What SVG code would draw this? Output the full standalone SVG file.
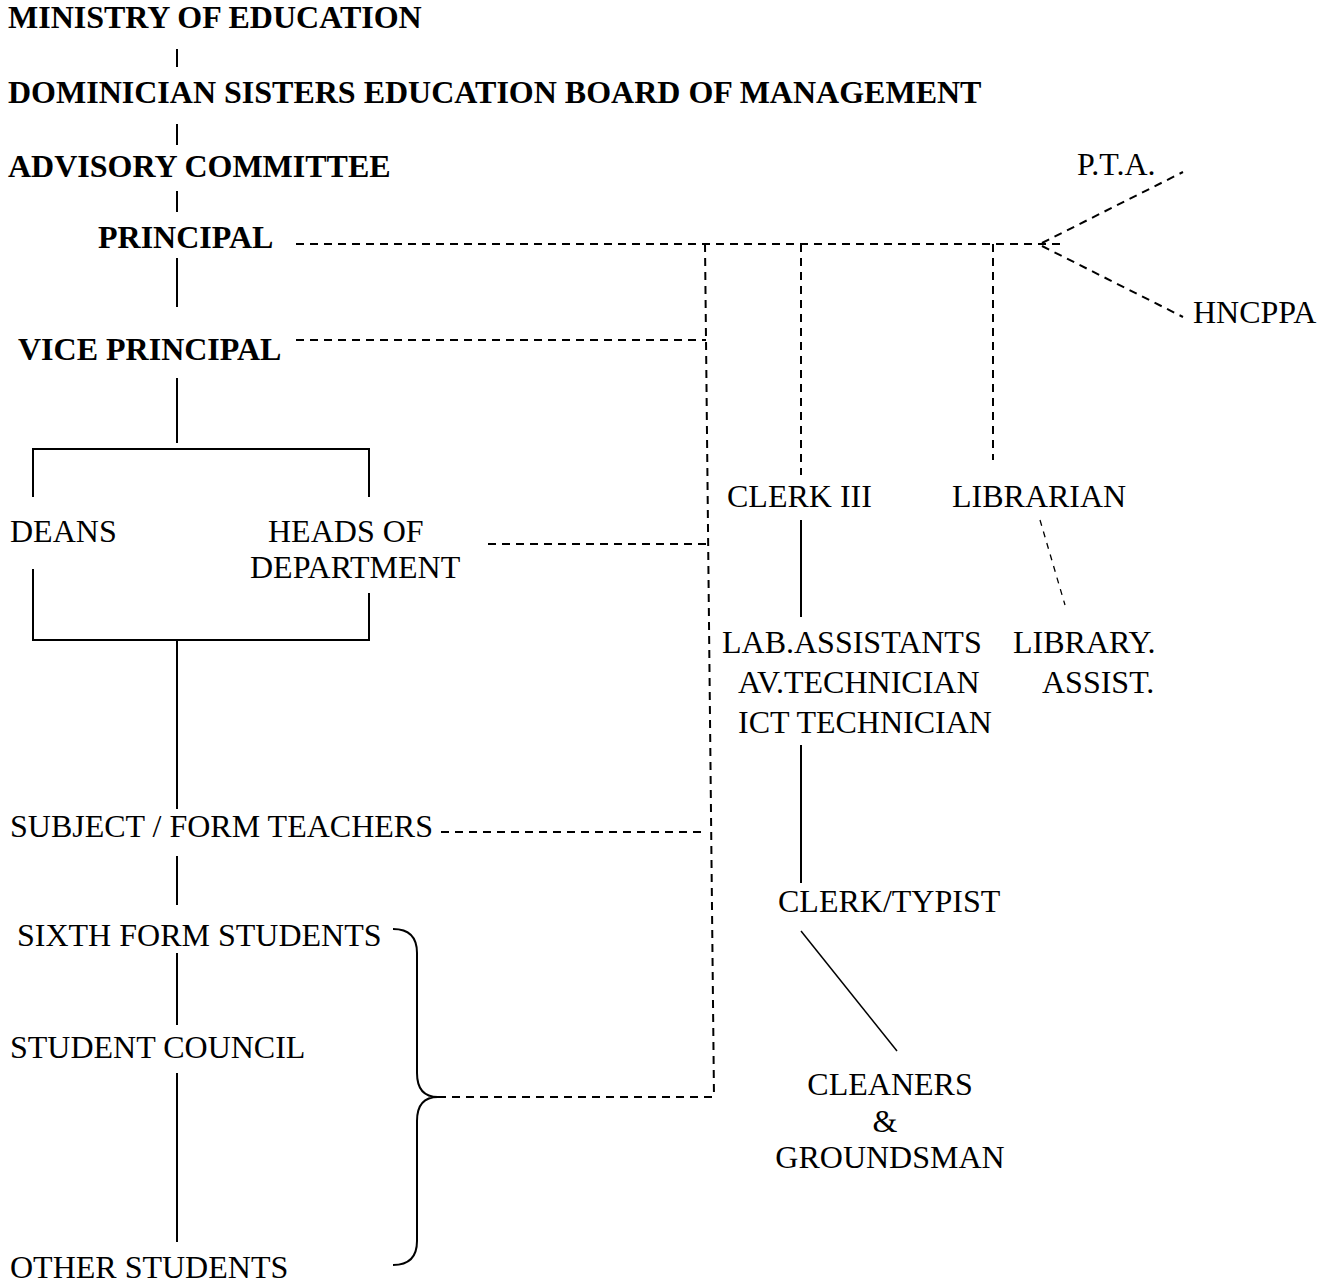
<svg xmlns="http://www.w3.org/2000/svg" width="1337" height="1283" viewBox="0 0 1337 1283">
<style>
text{font-family:"Liberation Serif","Times New Roman",serif;font-size:32px;fill:#000}
.b{font-weight:bold}
.s{stroke:#000;stroke-width:2;fill:none}
.t{stroke:#000;stroke-width:1.5;fill:none}
.d{stroke:#000;stroke-width:2;fill:none;stroke-dasharray:8 6}
.dt{stroke:#000;stroke-width:1.3;fill:none;stroke-dasharray:6 6}
</style>
<rect width="1337" height="1283" fill="#fff"/>
<g id="connectors">
<line class="s" x1="177" y1="49" x2="177" y2="67"/>
<line class="s" x1="177" y1="124" x2="177" y2="145"/>
<line class="s" x1="177" y1="191" x2="177" y2="212"/>
<line class="s" x1="177" y1="258" x2="177" y2="307"/>
<line class="s" x1="177" y1="378" x2="177" y2="443"/>
<polyline class="s" points="33,497 33,449 369,449 369,497"/>
<polyline class="s" points="33,569 33,640 369,640 369,593"/>
<line class="s" x1="177" y1="640" x2="177" y2="809"/>
<line class="s" x1="177" y1="856" x2="177" y2="905"/>
<line class="s" x1="177" y1="953" x2="177" y2="1025"/>
<line class="s" x1="177" y1="1073" x2="177" y2="1242"/>
<path class="s" d="M393,929 Q417,929 417,953 L417,1073 Q417,1097 438,1097 Q417,1097 417,1121 L417,1241 Q417,1265 393,1265"/>
<line class="d" x1="296" y1="244" x2="1063" y2="244"/>
<line class="d" x1="1042" y1="243" x2="1183" y2="172"/>
<line class="d" x1="1042" y1="246" x2="1183" y2="317"/>
<line class="d" x1="296" y1="340" x2="706" y2="340"/>
<line class="d" x1="705" y1="244" x2="714" y2="1097"/>
<line class="d" x1="488" y1="544" x2="707" y2="544"/>
<line class="d" x1="441" y1="832" x2="704" y2="832"/>
<line class="d" x1="438" y1="1097" x2="714" y2="1097"/>
<line class="d" x1="801" y1="244" x2="801" y2="475"/>
<line class="d" x1="993" y1="244" x2="993" y2="460"/>
<line class="s" x1="801" y1="520" x2="801" y2="617"/>
<line class="dt" x1="1040" y1="520" x2="1065" y2="605"/>
<line class="s" x1="801" y1="745" x2="801" y2="883"/>
<line class="t" x1="801" y1="931" x2="897" y2="1051"/>
</g>
<g id="ministry"><text class="b" x="8" y="28">MINISTRY OF EDUCATION</text></g>
<g id="board"><text class="b" x="8" y="103">DOMINICIAN SISTERS EDUCATION BOARD OF MANAGEMENT</text></g>
<g id="advisory"><text class="b" x="8" y="177">ADVISORY COMMITTEE</text></g>
<g id="principal"><text class="b" x="98" y="248">PRINCIPAL</text></g>
<g id="vice-principal"><text class="b" x="18" y="360">VICE PRINCIPAL</text></g>
<g id="deans"><text x="10" y="542">DEANS</text></g>
<g id="hod"><text x="268" y="542">HEADS OF</text><text x="250" y="578">DEPARTMENT</text></g>
<g id="teachers"><text x="10" y="837">SUBJECT / FORM TEACHERS</text></g>
<g id="sixth-form"><text x="17" y="946">SIXTH FORM STUDENTS</text></g>
<g id="student-council"><text x="10" y="1058">STUDENT COUNCIL</text></g>
<g id="other-students"><text x="10" y="1278">OTHER STUDENTS</text></g>
<g id="pta"><text x="1077" y="175">P.T.A.</text></g>
<g id="hncppa"><text x="1193" y="323">HNCPPA</text></g>
<g id="clerk3"><text x="727" y="507">CLERK III</text></g>
<g id="librarian"><text x="952" y="507">LIBRARIAN</text></g>
<g id="lab"><text x="722" y="653">LAB.ASSISTANTS</text><text x="738" y="693">AV.TECHNICIAN</text><text x="738" y="733">ICT TECHNICIAN</text></g>
<g id="library-assist"><text x="1013" y="653">LIBRARY.</text><text x="1042" y="693">ASSIST.</text></g>
<g id="clerk-typist"><text x="778" y="912">CLERK/TYPIST</text></g>
<g id="cleaners"><text x="890" y="1095" text-anchor="middle">CLEANERS</text><text x="885" y="1132" text-anchor="middle">&amp;</text><text x="890" y="1168" text-anchor="middle">GROUNDSMAN</text></g>
</svg>
